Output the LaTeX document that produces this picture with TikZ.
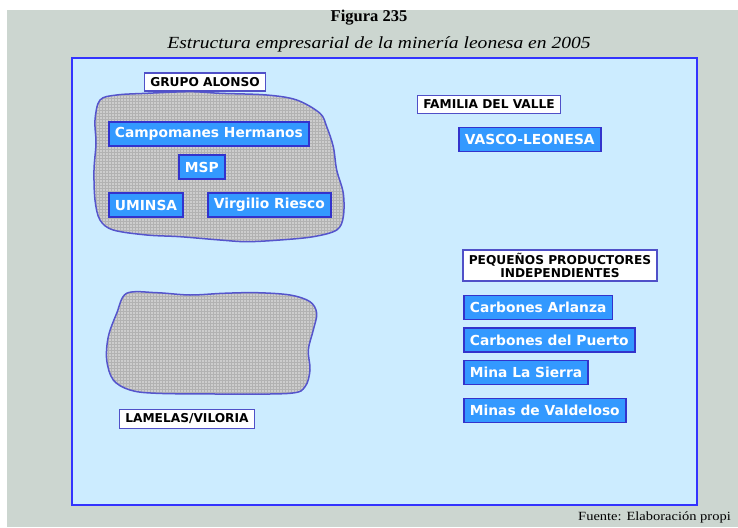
\documentclass[tikz,border=0pt]{standalone}
\usepackage{fontspec}
\setmainfont{Liberation Serif}
\setsansfont{DejaVu Sans}
\usetikzlibrary{patterns}
\definecolor{bggray}{RGB}{204,214,208}
\definecolor{panelblue}{RGB}{204,236,255}
\definecolor{paneledge}{RGB}{51,51,255}
\definecolor{boxblue}{RGB}{51,153,255}
\definecolor{boxedge}{RGB}{51,51,204}
\definecolor{labeledge}{RGB}{80,80,200}
\definecolor{blobfill}{RGB}{205,205,205}
\definecolor{blobgrid}{RGB}{178,178,178}
\definecolor{blobedge}{RGB}{85,85,204}
\tikzset{
  bluebox/.style={fill=boxblue, draw=boxedge, line width=1.8pt, text=white,
    font=\sffamily\bfseries\fontsize{13.8}{15}\selectfont, inner xsep=6pt,
    minimum height=24pt, anchor=west},
  labelbox/.style={fill=white, draw=labeledge, line width=1.5pt, text=black,
    font=\sffamily\bfseries\fontsize{12.2}{13.5}\selectfont, inner xsep=6pt,
    inner ysep=4.5pt, align=center},
  blobline/.style={draw=blobedge, line width=1.5pt},
}
\begin{document}
\begin{tikzpicture}[x=1pt,y=-1pt]
\useasboundingbox (0,0) rectangle (738,527);
\fill[white] (0,0) rectangle (738,527);
\fill[bggray] (7,10) rectangle (738,527);
% titles
\node[font=\bfseries\fontsize{16.5}{18}\selectfont] (title) at (369,17.5) {Figura 235};
\node[font=\itshape\fontsize{17}{19}\selectfont] (subtitle) at (379,44) {\scalebox{1.15}[1]{Estructura empresarial de la minería leonesa en 2005}};
% panel
\draw[fill=panelblue, draw=paneledge, line width=2.5pt] (72,58) rectangle (697,505);
\node[font=\fontsize{12.5}{14}\selectfont, anchor=west, inner sep=0pt] (fuente) at (578,517) {\scalebox{1.16}[1]{Fuente: Elaboración propi}};
% blob 1
\def\blobA{plot[smooth cycle, tension=0.55] coordinates {(100,100) (116.7,95) (146.7,93.3) (190,91.7) (220,93.3) (266.7,95) (296.7,100) (320,113.3) (326.7,126.7) (333.3,146.7) (336.7,170) (343.3,193.3) (343.3,216.7) (336.7,230) (313.3,236.7) (280,240) (246.7,241.7) (220,240) (180,236.7) (146.7,235) (113.3,230) (100,220) (95,200) (94,170) (96,143.3) (95,120)}}
\fill[blobfill] \blobA;
\path[pattern=grid, pattern color=blobgrid] \blobA;
\draw[blobline] \blobA;
% blob 2
\def\blobB{plot[smooth cycle, tension=0.55] coordinates {(126.7,293.3) (156.7,292.7) (190,295) (223.3,293.3) (256.7,292.7) (290,295) (310,301.7) (316.7,313.3) (313.3,330) (308.3,350) (310,370) (305,386.7) (290,393.3) (223.3,394) (156.7,393.3) (130,390) (113.3,380) (106.7,360) (108.3,336.7) (116.7,313.3)}}
\fill[blobfill] \blobB;
\path[pattern=grid, pattern color=blobgrid] \blobB;
\draw[blobline] \blobB;
% labels
\node[labelbox] (grupo) at (205,82) {GRUPO ALONSO};
\node[labelbox] (familia) at (489,104.5) {FAMILIA DEL VALLE};
\node[labelbox] (lamelas) at (187,419) {LAMELAS/VILORIA};
\node[labelbox, inner ysep=3pt] (pequenos) at (560,265.5) {PEQUEÑOS PRODUCTORES\\INDEPENDIENTES};
% companies
\node[bluebox] (campomanes) at (108,134) {Campomanes Hermanos};
\node[bluebox] (msp) at (178,167) {MSP};
\node[bluebox] (uminsa) at (108,205) {UMINSA};
\node[bluebox] (virgilio) at (207,205) {Virgilio Riesco};
\node[bluebox] (vasco) at (458,139.5) {VASCO-LEONESA};
\node[bluebox] (arlanza) at (463,307.5) {Carbones Arlanza};
\node[bluebox] (puerto) at (463,340) {Carbones del Puerto};
\node[bluebox] (sierra) at (463,372.5) {Mina La Sierra};
\node[bluebox] (valdeloso) at (463,410.5) {Minas de Valdeloso};
\end{tikzpicture}
\end{document}
